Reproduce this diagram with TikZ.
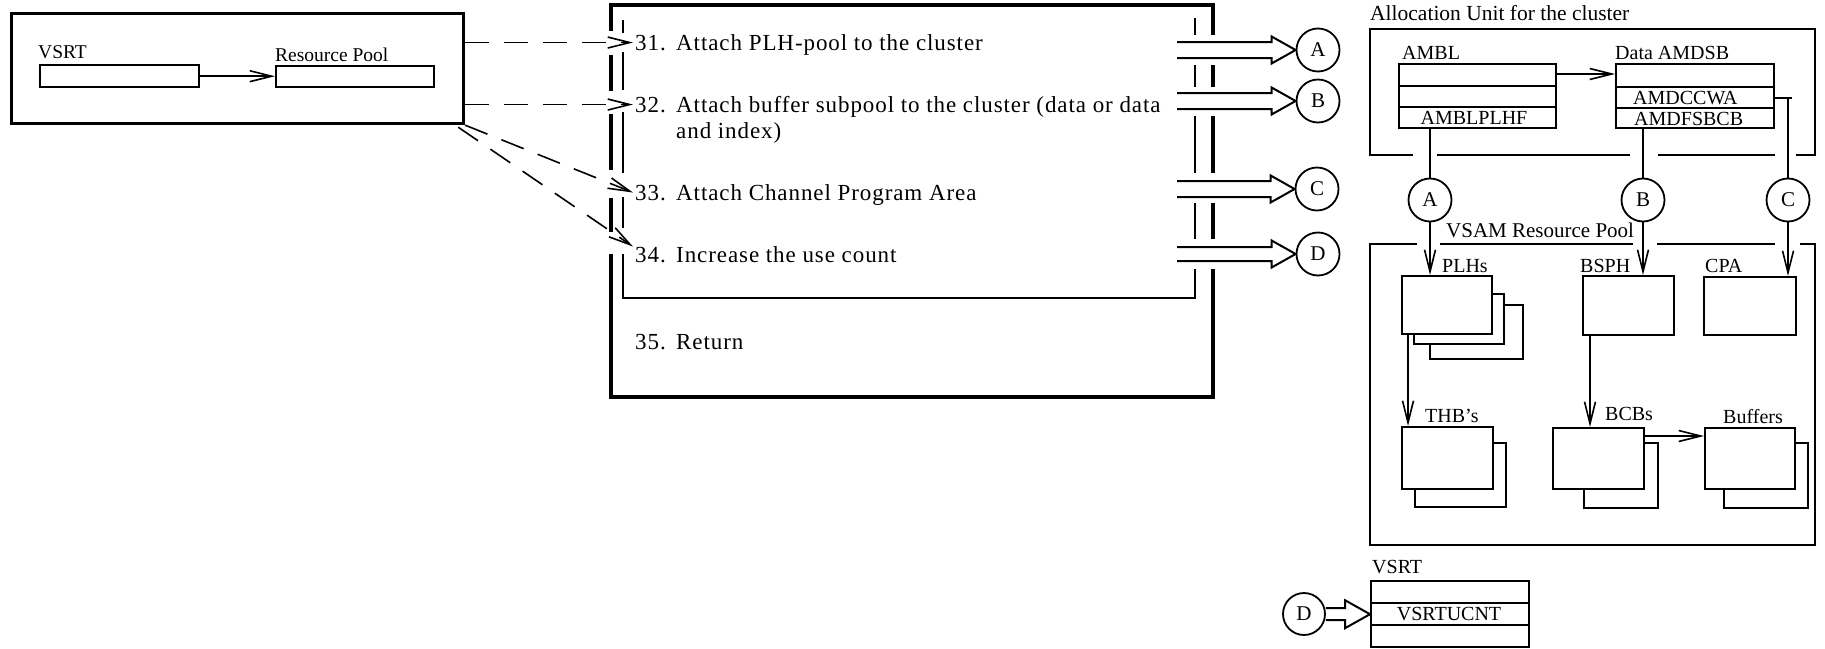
\documentclass[tikz,border=0pt]{standalone}
\usepackage{fontspec}
\setmainfont{Liberation Serif}
\newfontfamily\stepfont[LetterSpace=4]{Liberation Serif}
\usetikzlibrary{arrows.meta,calc}
\newcommand\hollowarrow[5]{% #1 start, #2 tip, #3 shaft half, #4 head half, #5 head length
  \draw[hollow] let \p1=(#1), \p2=(#2) in
   (\x1,\y2+#3pt) -- (\x2-#5pt,\y2+#3pt) -- (\x2-#5pt,\y2+#4pt) -- (\x2,\y2)
   -- (\x2-#5pt,\y2-#4pt) -- (\x2-#5pt,\y2-#3pt) -- (\x1,\y2-#3pt);}
\begin{document}
\begin{tikzpicture}[x=1pt,y=-1pt,
  heavy/.style={line width=3.2pt},
  boxline/.style={line width=2.8pt},
  rbox/.style={draw, line width=2.4pt, fill=white, inner sep=0pt, anchor=north west},
  conn/.style={line width=1.6pt},
  arr/.style={conn, -{Straight Barb[length=22pt,width=11pt,line width=1.6pt]}},
  dlink/.style={arr, dash pattern=on 24pt off 15pt},
  hollow/.style={line width=2pt, line join=miter},
  circ/.style={circle, draw, line width=1.8pt, minimum size=43pt, inner sep=0pt, font=\fontsize{21}{21}\selectfont},
  lbl/.style={inner sep=0pt, anchor=base west, font=\fontsize{20}{24}\selectfont},
  steptxt/.style={inner sep=0pt, anchor=base west, font=\stepfont\fontsize{23}{27}\selectfont},
]
\useasboundingbox (0,0) rectangle (1825,648);

% ---------- left box ----------
\node[rbox, line width=3.2pt, minimum width=452pt, minimum height=110pt] (leftbox) at (10,12) {};
\node[rbox, minimum width=159pt, minimum height=22pt] (vsrtA) at (39,64) {};
\node[rbox, minimum width=158pt, minimum height=21pt] (rpA) at (275,65) {};
\node[lbl, font=\fontsize{19.5}{22}\selectfont] (vsrtAl) at (38,58) {VSRT};
\node[lbl, font=\fontsize{19.5}{22}\selectfont] (rpAl) at (275,61) {Resource Pool};
\draw[arr] (vsrtA.east) -- (vsrtA.east -| rpA.west);

% ---------- main box ----------
\draw[heavy] (611,31) -- (611,5) -- (1213,5) -- (1213,35);
\foreach \a/\b in {55/91,114/170,198/232} \draw[heavy] (611,\a) -- (611,\b);
\draw[heavy] (611,254) -- (611,397) -- (1213,397) -- (1213,269);
\foreach \a/\b in {65/87,116/173,203/239} \draw[heavy] (1213,\a) -- (1213,\b);
\foreach \a/\b in {20/33,52/90,112/173,197/228} \draw[boxline] (623,\a) -- (623,\b);
\draw[boxline] (623,254) -- (623,298) -- (1195,298) -- (1195,269);
\foreach \a/\b in {18/35,65/87,116/173,203/239} \draw[boxline] (1195,\a) -- (1195,\b);

\node[steptxt] (n31) at (635,50) {31.};
\node[steptxt] (t31) at (676,50) {Attach PLH-pool to the cluster};
\node[steptxt] (n32) at (635,112) {32.};
\node[steptxt] (t32) at (676,112) {Attach buffer subpool to the cluster (data or data};
\node[steptxt] (t32b) at (676,138) {and index)};
\node[steptxt] (n33) at (635,200) {33.};
\node[steptxt] (t33) at (676,200) {Attach Channel Program Area};
\node[steptxt] (n34) at (635,262) {34.};
\node[steptxt] (t34) at (676,262) {Increase the use count};
\node[steptxt] (n35) at (635,349) {35.};
\node[steptxt] (t35) at (676,349) {Return};

\draw[dlink] (leftbox.east |- n31.west) -- ([xshift=-2pt]n31.west);
\draw[dlink] (leftbox.east |- n32.west) -- ([xshift=-2pt]n32.west);
\draw[dlink] (leftbox.south east) -- ([xshift=-2pt]n33.west);
\draw[dlink] ([xshift=-7pt,yshift=-2pt]leftbox.south east) -- ([xshift=-2pt]n34.north west);

% ---------- hollow arrows to connectors ----------
\node[circ] (cA1) at (1318,50) {A};
\node[circ] (cB1) at (1318,101) {B};
\node[circ] (cC1) at (1317,189) {C};
\node[circ] (cD1) at (1318,254) {D};
\coordinate (hA) at (1177,50);
\coordinate (hB) at (1177,101);
\coordinate (hC) at (1177,189);
\coordinate (hD) at (1177,254);
\hollowarrow{hA}{cA1.west}{8}{13.5}{24}
\hollowarrow{hB}{cB1.west}{8}{13.5}{24}
\hollowarrow{hC}{cC1.west}{8}{13.5}{24}
\hollowarrow{hD}{cD1.west}{7}{13.5}{24}

% ---------- allocation unit ----------
\node[lbl, font=\fontsize{21.5}{24}\selectfont] (alloclbl) at (1370,20) {Allocation Unit for the cluster};
\draw[boxline] (1413,155) -- (1370,155) -- (1370,29) -- (1815,29) -- (1815,155) -- (1796,155);
\draw[boxline] (1437,155) -- (1630,155);
\draw[boxline] (1658,155) -- (1775,155);

\node[lbl] (ambllbl) at (1402,59) {AMBL};
\node[rbox, minimum width=157pt, minimum height=64pt] (ambl) at (1398,63) {};
\draw[conn] (ambl.west |- 0,86) -- (ambl.east |- 0,86);
\draw[conn] (ambl.west |- 0,107) -- (ambl.east |- 0,107);
\node[lbl, anchor=center] (amblplhf) at (1474,117.5) {AMBLPLHF};

\node[lbl] (amdsblbl) at (1615,59) {Data AMDSB};
\node[rbox, minimum width=158pt, minimum height=64pt] (amdsb) at (1615,63) {};
\draw[conn] (amdsb.west |- 0,87) -- (amdsb.east |- 0,87);
\draw[conn] (amdsb.west |- 0,108) -- (amdsb.east |- 0,108);
\node[lbl, anchor=west] (amdccwa) at (1633,98) {AMDCCWA};
\node[lbl, anchor=west] (amdfsbcb) at (1634,118.5) {AMDFSBCB};
\draw[arr] (ambl.east |- 0,74) -- (amdsb.west |- 0,74);

\node[circ] (cA) at (1430,200) {A};
\node[circ] (cB) at (1643,200) {B};
\node[circ] (cC) at (1788,200) {C};
\draw[conn] (cA |- ambl.south) -- (cA.north);
\draw[conn] (cB |- amdsb.south) -- (cB.north);
\coordinate (cturn) at (cC |- amdccwa.west);
\draw[conn] (amdsb.east |- cturn) -- ([xshift=4pt]cturn);
\draw[conn] (cturn) -- (cC.north);

% ---------- VSAM resource pool ----------
\node[lbl, font=\fontsize{21}{24}\selectfont] (vsamlbl) at (1446,237) {VSAM Resource Pool};
\draw[boxline] (1417,244) -- (1370,244) -- (1370,545) -- (1815,545) -- (1815,244) -- (1800,244);
\draw[boxline] (1440,244) -- (1633,244);
\draw[boxline] (1657,244) -- (1775,244);

\node[rbox, minimum width=93pt, minimum height=54pt] (plh2) at (1429,304) {};
\node[rbox, minimum width=90pt, minimum height=50pt] (plh1) at (1413,293) {};
\node[rbox, minimum width=90pt, minimum height=58pt] (plhs) at (1401,275) {};
\node[rbox, minimum width=91pt, minimum height=59pt] (bsph) at (1582,275) {};
\node[rbox, minimum width=92pt, minimum height=58pt] (cpa) at (1703,276) {};

\node[rbox, minimum width=91pt, minimum height=64pt] (thb1) at (1414,442) {};
\node[rbox, minimum width=91pt, minimum height=62pt] (thb) at (1401,426) {};
\node[rbox, minimum width=74pt, minimum height=65pt] (bcb1) at (1583,442) {};
\node[rbox, minimum width=91pt, minimum height=61pt] (bcb) at (1552,427) {};
\node[rbox, minimum width=84pt, minimum height=65pt] (buf1) at (1723,442) {};
\node[rbox, minimum width=90pt, minimum height=61pt] (buf) at (1704,427) {};

\node[lbl] (plhslbl) at (1442,272) {PLHs};
\node[lbl] (bsphlbl) at (1580,272) {BSPH};
\node[lbl] (cpalbl) at (1705,272) {CPA};
\node[lbl] (thblbl) at (1425,422) {THB's};
\node[lbl] (bcblbl) at (1605,420) {BCBs};
\node[lbl] (buflbl) at (1723,423) {Buffers};

\draw[arr] (cA.south) -- (cA |- plhs.north);
\draw[arr] (cB.south) -- (cB |- bsph.north);
\draw[arr] (cC.south) -- (cC |- cpa.north);
\coordinate (p1) at ([xshift=7pt]plhs.south west);
\draw[arr] (p1) -- (p1 |- thb.north);
\coordinate (p2) at ([xshift=8pt]bsph.south west);
\draw[arr] (p2) -- (p2 |- bcb.north);
\coordinate (p3) at ([yshift=-9pt]bcb.north east);
\draw[arr] (p3) -- (p3 -| buf.west);

% ---------- lower VSRT ----------
\node[lbl] (vsrtBl) at (1372,573) {VSRT};
\node[rbox, minimum width=158pt, minimum height=66pt] (vsrtB) at (1370,580) {};
\draw[conn] (vsrtB.west |- 0,603) -- (vsrtB.east |- 0,603);
\draw[conn] (vsrtB.west |- 0,625) -- (vsrtB.east |- 0,625);
\node[lbl, anchor=center] (vsrtucnt) at (1449,614) {VSRTUCNT};
\node[circ, minimum size=42pt] (cD) at (1304,614) {D};
\hollowarrow{cD.east}{vsrtB.west}{6}{14}{25}
\end{tikzpicture}
\end{document}
